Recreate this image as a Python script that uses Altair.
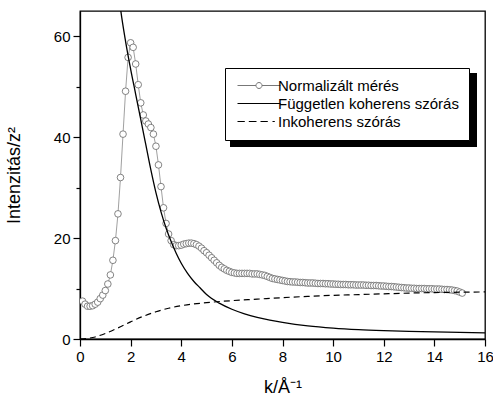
import altair as alt
import pandas as pd

# ---- data ----
meas_k = [0.1, 0.2, 0.3, 0.4, 0.5, 0.6, 0.7, 0.8, 0.9, 1.0,
          1.1, 1.2, 1.3, 1.4, 1.5, 1.6, 1.7, 1.8, 1.9, 2.0,
          2.1, 2.2, 2.3, 2.4, 2.5, 2.6, 2.7, 2.8, 2.9, 3.0,
          3.1, 3.2, 3.3, 3.4, 3.5, 3.6, 3.7, 3.8, 3.9, 4.0,
          4.1, 4.2, 4.3, 4.4, 4.5, 4.6, 4.7, 4.8, 4.9, 5.0,
          5.1, 5.2, 5.3, 5.4, 5.5, 5.6, 5.7, 5.8, 5.9, 6.0,
          6.1, 6.2, 6.3, 6.4, 6.5, 6.6, 6.7, 6.8, 6.9, 7.0,
          7.1, 7.2, 7.3, 7.4, 7.5, 7.6, 7.7, 7.8, 7.9, 8.0,
          8.1, 8.2, 8.3, 8.4, 8.5, 8.6, 8.7, 8.8, 8.9, 9.0,
          9.1, 9.2, 9.3, 9.4, 9.5, 9.6, 9.7, 9.8, 9.9, 10.0,
          10.1, 10.2, 10.3, 10.4, 10.5, 10.6, 10.7, 10.8, 10.9, 11.0,
          11.1, 11.2, 11.3, 11.4, 11.5, 11.6, 11.7, 11.8, 11.9, 12.0,
          12.1, 12.2, 12.3, 12.4, 12.5, 12.6, 12.7, 12.8, 12.9, 13.0,
          13.1, 13.2, 13.3, 13.4, 13.5, 13.6, 13.7, 13.8, 13.9, 14.0,
          14.1, 14.2, 14.3, 14.4, 14.5, 14.6, 14.7, 14.8, 14.9, 15.0,
          15.1]
meas_i = [7.5, 6.9, 6.5, 6.5, 6.6, 6.9, 7.3, 8.0, 8.7, 9.6,
          10.9, 12.7, 15.6, 19.5, 24.8, 32.0, 40.6, 49.1, 55.8, 58.7,
          57.8, 54.5, 50.4, 46.8, 44.4, 43.2, 42.6, 41.9, 40.6, 38.2,
          34.5, 30.2, 26.0, 22.9, 20.8, 19.5, 18.7, 18.5, 18.5, 18.6,
          18.8, 18.9, 19.0, 19.0, 18.9, 18.7, 18.4, 18.0, 17.5, 17.1,
          16.6, 16.1, 15.6, 15.1, 14.6, 14.2, 13.9, 13.6, 13.4, 13.2,
          13.1, 13.0, 13.0, 13.0, 13.0, 13.0, 13.0, 12.9, 12.9, 12.9,
          12.8, 12.7, 12.6, 12.4, 12.2, 12.0, 11.9, 11.8, 11.7, 11.6,
          11.5, 11.4, 11.35, 11.3, 11.3, 11.25, 11.2, 11.2, 11.15, 11.1,
          11.1, 11.1, 11.05, 11.0, 11.0, 11.0, 10.95, 10.95, 10.9, 10.9,
          10.85, 10.85, 10.8, 10.8, 10.8, 10.75, 10.75, 10.75, 10.7, 10.7,
          10.7, 10.7, 10.65, 10.65, 10.6, 10.6, 10.6, 10.55, 10.5, 10.5,
          10.45, 10.4, 10.4, 10.35, 10.3, 10.25, 10.2, 10.15, 10.1, 10.1,
          10.05, 10.05, 10.0, 10.0, 10.0, 10.0, 9.95, 9.95, 9.95, 9.9,
          9.9, 9.9, 9.85, 9.8, 9.8, 9.75, 9.7, 9.6, 9.5, 9.3,
          9.1]

coh_k = [1.45, 1.6, 1.8, 2.0, 2.2, 2.4, 2.6, 2.8, 3.0, 3.2, 3.4, 3.6, 3.8,
         4.0, 4.25, 4.5, 4.75, 5.0, 5.5, 6.0, 6.5, 7.0, 7.5, 8.0, 9.0,
         10.0, 11.0, 12.0, 13.0, 14.0, 15.0, 16.0]
coh_i = [72.0, 65.5, 59.0, 53.5, 48.5, 43.5, 38.5, 33.5, 29.0, 25.2, 22.0, 19.3, 17.0,
         15.0, 13.0, 11.4, 10.1, 8.8, 7.1, 5.9, 5.0, 4.3, 3.75, 3.3, 2.6,
         2.15, 1.85, 1.65, 1.5, 1.4, 1.3, 1.2]

inc_k = [0.0, 0.5, 1.0, 1.5, 2.0, 2.5, 3.0, 3.5, 4.0, 5.0, 6.0, 7.0, 8.0,
         9.0, 10.0, 11.0, 12.0, 13.0, 14.0, 15.0, 16.0]
inc_i = [0.0, 0.3, 1.1, 2.2, 3.4, 4.5, 5.4, 6.1, 6.6, 7.2, 7.6, 7.9, 8.2,
         8.45, 8.65, 8.8, 8.95, 9.1, 9.2, 9.27, 9.33]

series_names = ["Normalizált mérés", "Független koherens szórás", "Inkoherens szórás"]
series_colors = ["#777777", "#000000", "#000000"]
# legend glyphs (unit = 5 px)
series_paths = [
    "M-1,0H2.7M3.9,0H7.6M3.9,0A0.6,0.6,0,1,1,2.7,0A0.6,0.6,0,1,1,3.9,0Z",
    "M-1,0H7.6",
    "M-1,0H0.46M1.26,0H2.8M3.6,0H5.06M6,0H6.46",
]

x_ticks = list(range(0, 17))
y_ticks = [0, 10, 20, 30, 40, 50, 60]

meas = pd.DataFrame({"k": meas_k, "I": meas_i})
coh = pd.DataFrame({"k": coh_k, "I": coh_i})
inc = pd.DataFrame({"k": inc_k, "I": inc_i})
leg = pd.DataFrame({"series": series_names})

FONT = "Liberation Sans"

xs = alt.Scale(domain=[0, 16], nice=False, zero=False)
ys = alt.Scale(domain=[0, 65], nice=False, zero=False)

x_axis = alt.Axis(
    title="k/Å⁻¹", values=x_ticks,
    labelExpr="datum.value % 2 === 0 ? datum.label : ''",
    tickSize={"condition": {"test": "datum.value % 2 === 0", "value": 7}, "value": 4},
    labelOverlap=False, labelFlush=False, labelPadding=3, titlePadding=14,
)
y_axis = alt.Axis(
    title="Intenzitás/z²", values=y_ticks,
    labelExpr="datum.value % 20 === 0 ? datum.label : ''",
    tickSize={"condition": {"test": "datum.value % 20 === 0", "value": 7}, "value": 4},
    labelOverlap=False, labelFlush=False, labelPadding=3, titlePadding=30,
)

shadow = alt.Chart(leg).mark_rect(color="black").encode(
    x=alt.value(150), x2=alt.value(397), y=alt.value(62), y2=alt.value(136)
)

meas_line = alt.Chart(meas).mark_line(color="#888888", strokeWidth=0.8, clip=True).encode(
    x=alt.X("k:Q", scale=xs, axis=x_axis),
    y=alt.Y("I:Q", scale=ys, axis=y_axis),
)
meas_pts = alt.Chart(meas).mark_point(
    shape="circle", size=44, fill="white", filled=False, stroke="#666666",
    strokeWidth=0.8, opacity=1, clip=True
).encode(x="k:Q", y="I:Q")

coh_line = alt.Chart(coh).mark_line(color="black", strokeWidth=1.3, interpolate="monotone", clip=True).encode(
    x="k:Q", y="I:Q"
)
inc_line = alt.Chart(inc).mark_line(color="black", strokeWidth=1.2, strokeDash=[6, 4],
                                    interpolate="monotone", clip=True).encode(
    x="k:Q", y="I:Q"
)

legend_layer = alt.Chart(leg).mark_point(size=0, opacity=0, filled=False).encode(
    shape=alt.Shape("series:N", scale=alt.Scale(domain=series_names, range=series_paths),
                    legend=alt.Legend(
                        title=None, orient="none", legendX=145, legendY=57,
                        symbolSize=100, symbolStrokeWidth=1, symbolFillColor="white",
                        symbolOpacity=1, labelFont=FONT, labelFontSize=15, labelColor="black",
                        labelOffset=28, labelLimit=400, rowPadding=2, padding=10,
                        strokeColor="black", fillColor="white", cornerRadius=0)),
    stroke=alt.Stroke("series:N", scale=alt.Scale(domain=series_names, range=series_colors)),
)

chart = alt.layer(shadow, meas_line, meas_pts, coh_line, inc_line, legend_layer).properties(
    width=405, height=328,
    autosize=alt.AutoSizeParams(type="none"),
    padding={"left": 80, "top": 11, "right": 8, "bottom": 58},
    background="white",
).configure_view(stroke="black", strokeWidth=1.3).configure_axis(
    grid=False, domainColor="black", domainWidth=1.3, tickColor="black", tickWidth=1.2,
    labelFont=FONT, labelFontSize=15, labelColor="black",
    titleFont=FONT, titleFontSize=18, titleColor="black", titleFontWeight="normal",
)

chart.save("out.html", embed_options={"renderer": "svg", "actions": False})
